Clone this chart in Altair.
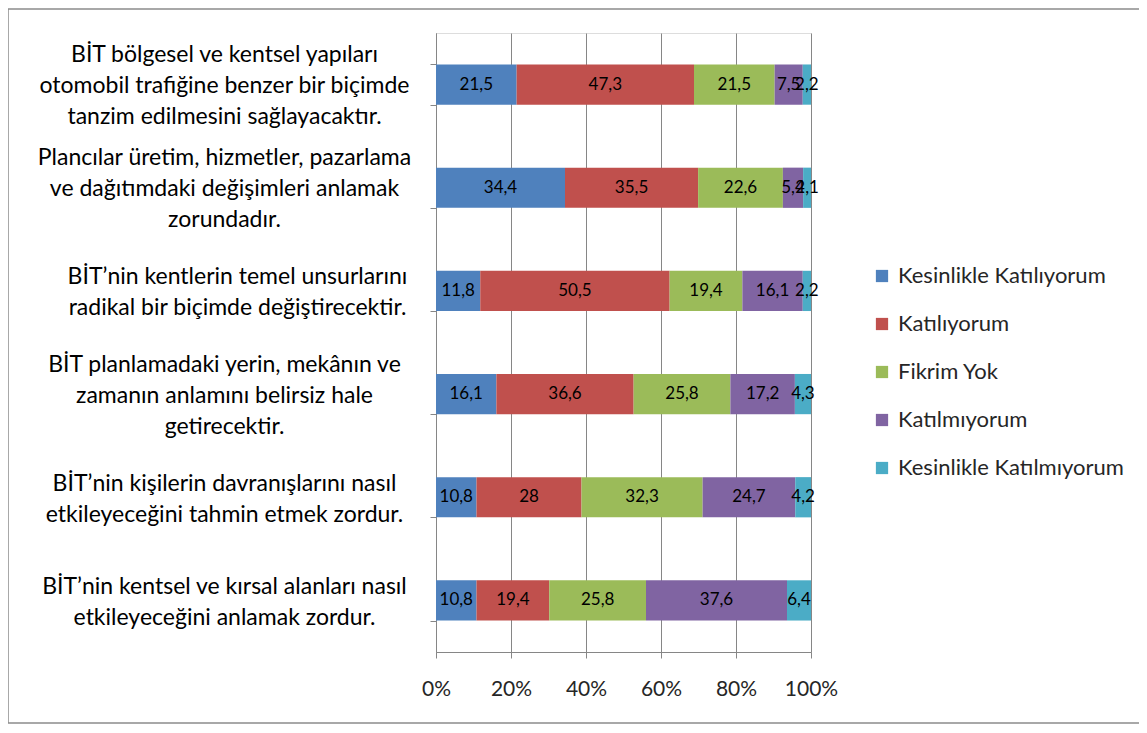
import altair as alt
import pandas as pd

statements = [
    "BİT bölgesel ve kentsel yapıları\notomobil trafiğine benzer bir biçimde\ntanzim edilmesini sağlayacaktır.",
    "Plancılar üretim, hizmetler, pazarlama\nve dağıtımdaki değişimleri anlamak\nzorundadır.",
    "BİT’nin kentlerin temel unsurlarını\nradikal bir biçimde değiştirecektir.",
    "BİT planlamadaki yerin, mekânın ve\nzamanın anlamını belirsiz hale\ngetirecektir.",
    "BİT’nin kişilerin davranışlarını nasıl\netkileyeceğini tahmin etmek zordur.",
    "BİT’nin kentsel ve kırsal alanları nasıl\netkileyeceğini anlamak zordur.",
]
responses = [
    "Kesinlikle Katılıyorum",
    "Katılıyorum",
    "Fikrim Yok",
    "Katılmıyorum",
    "Kesinlikle Katılmıyorum",
]
kesinlikle_katiliyorum = [21.5, 34.4, 11.8, 16.1, 10.8, 10.8]
katiliyorum = [47.3, 35.5, 50.5, 36.6, 28, 19.4]
fikrim_yok = [21.5, 22.6, 19.4, 25.8, 32.3, 25.8]
katilmiyorum = [7.5, 5.4, 16.1, 17.2, 24.7, 37.6]
kesinlikle_katilmiyorum = [2.2, 2.1, 2.2, 4.3, 4.2, 6.4]
colors = ["#4F81BD", "#C0504D", "#9BBB59", "#8064A2", "#4BACC6"]

series = [kesinlikle_katiliyorum, katiliyorum, fikrim_yok, katilmiyorum, kesinlikle_katilmiyorum]
rows = []
for k, (resp, vals) in enumerate(zip(responses, series)):
    for s, v in zip(statements, vals):
        rows.append({"statement": s, "response": resp, "order": k, "value": v})
df = pd.DataFrame(rows)

FONT = "Lato"

base = alt.Chart(df).transform_stack(
    stack="value", groupby=["statement"], as_=["v0", "v1"],
    sort=[alt.SortField("order", order="ascending")]
).transform_calculate(
    x0="datum.v0 / 100", x1="datum.v1 / 100",
    xm="(datum.v0 + datum.v1) / 200",
    lbl="replace(toString(datum.value), '.', ',')"
)

three_lines = "length(split(datum.label, '\\n')) == 3"

y_enc = alt.Y(
    "statement:N", sort=statements, title=None,
    scale=alt.Scale(paddingInner=0.61, paddingOuter=0.305),
    axis=alt.Axis(
        labelExpr="split(datum.label, '\\n')",
        labelAlign="center",
        labelPadding={"condition": {"test": "indexof(datum.label, 'temel') > 0", "value": 193},
                      "value": 206},
        labelOffset={"condition": {"test": three_lines, "value": -30}, "value": -14},
        labelLineHeight=31,
        labelFont=FONT, labelFontSize=23, labelColor="#000000",
        labelLimit=0, tickBand="extent", tickSize=6, tickColor="#868686",
        domainColor="#868686", ticks=True, grid=False,
    ),
)

bars = base.mark_bar().encode(
    x=alt.X("x0:Q", scale=alt.Scale(domain=[0, 1], nice=False), title=None,
            axis=alt.Axis(format="%", values=[0, 0.2, 0.4, 0.6, 0.8, 1.0],
                          grid=True, gridColor="#868686", gridWidth=1,
                          domainColor="#868686", tickColor="#868686", tickSize=6,
                          labelFont=FONT, labelFontSize=21, labelColor="#262626",
                          labelOverlap=False, labelFlush=False,
                          labelPadding=20)),
    x2="x1:Q",
    y=y_enc,
    color=alt.Color("response:N", sort=responses,
                    scale=alt.Scale(domain=responses, range=colors),
                    legend=alt.Legend(title=None, orient="none", legendX=435, legendY=232,
                                      labelFont=FONT, labelFontSize=22, labelColor="#262626",
                                      symbolType="square", symbolSize=150, symbolStrokeWidth=0,
                                      rowPadding=26, labelOffset=5, labelLimit=0)),
)

texts = base.mark_text(font=FONT, fontSize=17, color="#000000").encode(
    x="xm:Q",
    y=alt.Y("statement:N", sort=statements),
    text="lbl:N",
)

frame = alt.Chart(df).mark_rect(fill=None, stroke="#8c8c8c", strokeWidth=1.5, clip=False).encode(
    x=alt.value(-428), x2=alt.value(706), y=alt.value(-24), y2=alt.value(690)
).transform_filter("datum.order == 0 && datum.value == 21.5 && indexof(datum.statement, 'bölgesel') > 0")

chart = alt.layer(frame, bars, texts).properties(
    width=375, height=619,
    autosize=alt.AutoSizeParams(type="none"),
    padding={"left": 428, "top": 25, "right": 328, "bottom": 73},
).configure_view(stroke=None).configure(font=FONT)

chart.save("out.html", embed_options={"renderer": "svg", "actions": False})
